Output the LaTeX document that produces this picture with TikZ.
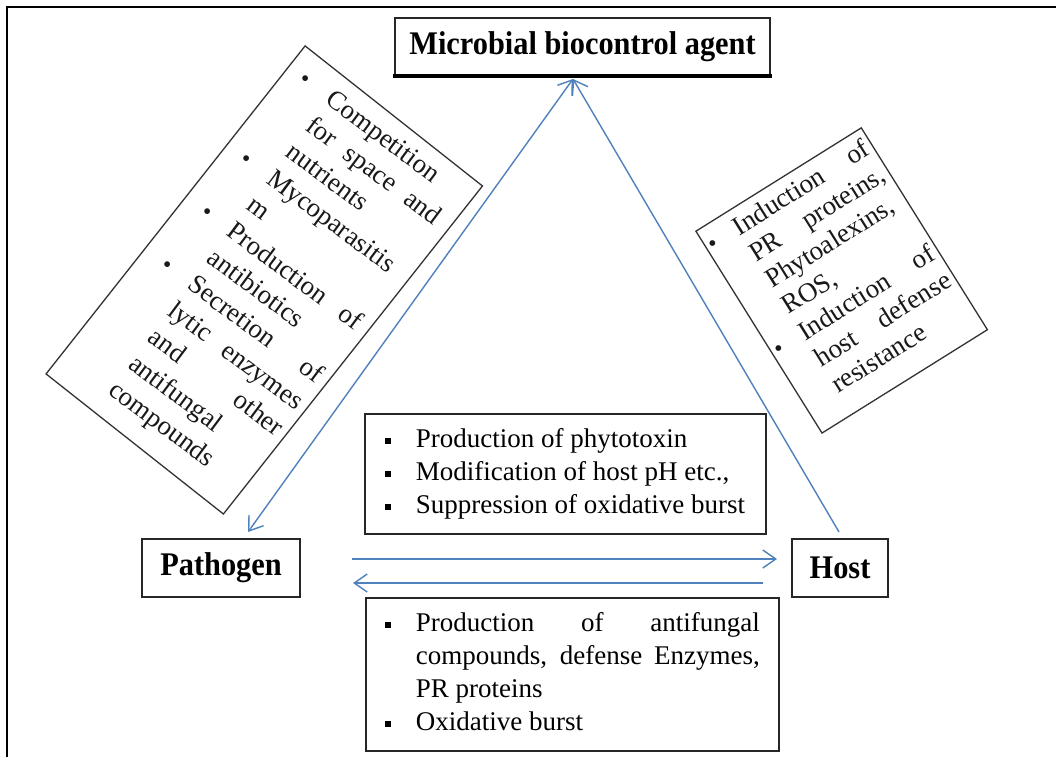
\documentclass[tikz,border=0pt]{standalone}
\usepackage{fontspec}
\setmainfont{Liberation Serif}
\usepackage{graphicx}
\usetikzlibrary{arrows.meta}
\definecolor{arrowblue}{RGB}{79,129,189}
\newcommand\sqb{\raisebox{3.5pt}{\rule{6pt}{6pt}}}
\newcommand\rdb{{\fontsize{24}{24}\selectfont\textbullet}}
\newcommand\bodyfnt{\fontsize{27}{31}\selectfont}
\newcommand\leftfnt{\fontsize{27}{33}\selectfont}
\newcommand\midfnt{\fontsize{27}{33}\selectfont}
\newcommand\titlefnt{\fontsize{33}{36}\selectfont\bfseries}
\newcommand\cond[1]{\scalebox{0.92}[1]{#1}}
\newcommand\spr[2]{\makebox[#1][s]{#2}}
\tikzset{
  blueline/.style={draw=arrowblue, line width=1.4pt},
  barbtip/.style={-{Straight Barb[length=13pt,width=18pt]}},
  namebox/.style={draw=black!85, line width=2pt, minimum height=58pt, inner sep=0pt},
  listbox/.style={draw=black!85, line width=1.6pt, anchor=north west, inner xsep=20pt, inner ysep=10.5pt},
  rotbox/.style={draw=black!80, line width=1.3pt, transform shape, anchor=north west, inner sep=0pt},
  rottext/.style={transform shape, anchor=north west, inner sep=0pt, text=black!90},
}
\begin{document}
\begin{tikzpicture}[x=1pt,y=-1pt]
\useasboundingbox (0,0) rectangle (1056,757);
\fill[white] (0,0) rectangle (1056,757);
% frame
\draw[line width=2.5pt] (7,757) -- (7,7) -- (1056,7);

% title
\node[draw=black!85, line width=1.3pt, minimum width=375pt, minimum height=57pt, inner sep=0pt] (mbca) at (582.5,46.5) {\titlefnt\cond{Microbial biocontrol agent}};
\draw[line width=4pt] ([xshift=-1pt]mbca.south west) -- ([xshift=1pt]mbca.south east);

% pathogen and host
\node[namebox, minimum width=158pt] (pathogen) at (221,568) {\titlefnt\cond{Pathogen}};
\node[namebox, minimum width=96pt] (host) at (840,568) {\titlefnt\cond{Host}};

% middle boxes
\node[listbox, minimum width=401pt, minimum height=120pt] (phyto) at (364,413) {\midfnt
\begin{tabular}{@{}p{31pt}@{}p{330pt}@{}}
\sqb & Production of phytotoxin\\
\sqb & Modification of host pH etc.,\\
\sqb & Suppression of oxidative burst
\end{tabular}};

\node[listbox, inner xsep=19pt, minimum width=413pt, minimum height=153pt] (defense) at (365,597) {\midfnt
\begin{tabular}{@{}p{31pt}@{}p{344pt}@{}}
\sqb & \spr{344pt}{Production of antifungal}\\
 & \spr{344pt}{compounds, defense Enzymes,}\\
 & PR proteins\\
\sqb & Oxidative burst
\end{tabular}};

% left rotated box
\begin{scope}[shift={(305,45)}, rotate=-38.3]
\node[rotbox, minimum width=226pt, minimum height=418pt] (mechbox) at (0,0) {};
\node[rottext, rotate=1.6] (mechtext) at (17,11) {\leftfnt
\begin{tabular}{@{}p{33pt}@{}p{161pt}@{}}
\rdb & Competition\\
 & \spr{161pt}{for space and}\\
 & nutrients\\
\rdb & Mycoparasitis\\
 & m\\
\rdb & \spr{161pt}{Production of}\\
 & antibiotics\\
\rdb & \spr{161pt}{Secretion of}\\
 & \spr{161pt}{lytic enzymes}\\
 & \spr{161pt}{and other}\\
 & antifungal\\
 & compounds
\end{tabular}};
\end{scope}

% right rotated box
\begin{scope}[shift={(695,231)}, rotate=32]
\node[rotbox, minimum width=195pt, minimum height=238pt] (inducbox) at (0,0) {};
\node[rottext] (inductext) at (4,6) {\bodyfnt
\begin{tabular}{@{}p{31pt}@{}p{155pt}@{}}
\rdb & \spr{155pt}{Induction of}\\
 & \spr{155pt}{PR proteins,}\\
 & Phytoalexins,\\
 & ROS,\\
\rdb & \spr{155pt}{Induction of}\\
 & \spr{155pt}{host defense}\\
 & resistance
\end{tabular}};
\end{scope}

% connectors
\coordinate (mtip) at (573,79);
\coordinate (ptip) at (248,532);
\coordinate (hstart) at (839,532);
\coordinate (ua) at (352,559);
\coordinate (ub) at (777,559);
\coordinate (la) at (763,583);
\coordinate (lb) at (353,583);
\draw[blueline, {Straight Barb[length=13pt,width=18pt]}-{Straight Barb[length=13pt,width=18pt]}] (ptip) -- (mtip);
\draw[blueline, barbtip] (hstart) -- (mtip);
\draw[blueline, barbtip] (ua) -- (ub);
\draw[blueline, barbtip] (la) -- (lb);
\end{tikzpicture}
\end{document}
